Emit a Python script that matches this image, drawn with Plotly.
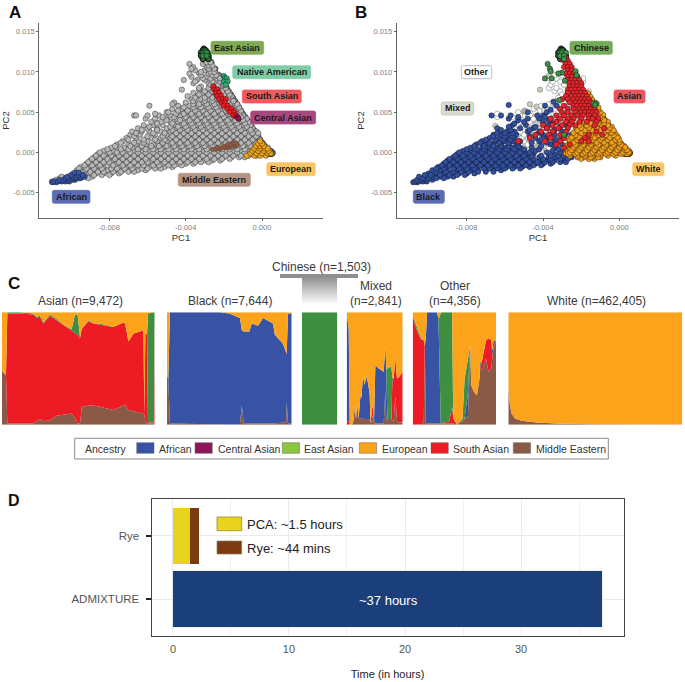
import plotly.graph_objects as go

W, H = 685, 682
FONT = "Liberation Sans"

# ---------- PCA data (PC2 row : PC1 values, both x 1e-4) ----------
GRAY_ROWS = {
-36:[-110,-107],-34:[-108,-105,-103,-99],-32:[-106,-104],-30:[-105,-101,-97,-93,-89],-26:[-99,-95,-91,-87,-83,-79,-75],
-22:[-97,-93,-89,-85,-81,-77,-73,-69,-65,-61],
-18:[-95,-91,-87,-83,-79,-75,-71,-67,-63,-59,-55,-51,-47],
-14:[-92,-88,-84,-80,-76,-72,-68,-64,-60,-56,-52,-48,-44,-40,-36],
-10:[-90,-86,-82,-78,-74,-70,-66,-62,-58,-54,-50,-46,-42,-38,-34,-30,-26,-22],
-6:[-88,-84,-80,-76,-72,-68,-64,-60,-56,-52,-48,-44,-40,-36,-32,-28,-24,-20,-16,-12,-9],
-2:[-86,-82,-78,-74,-70,-66,-62,-58,-54,-50,-46,-42,-38,-34,-30,-26,-22,-18,-14,-10,-6,-2,2],
2:[-83,-78,-75,-71,-67,-63,-59,-55,-51,-47,-43,-39,-35,-31,-27,-23,-19,-15,-11,-7,-3,1,4],
6:[-79,-72,-68,-64,-60,-56,-52,-48,-44,-40,-36,-32,-28,-24,-20,-16,-12,-8,-4,0,3],
10:[-76,-70,-66,-61,-57,-53,-49,-45,-41,-37,-33,-29,-25,-21,-17,-13,-9,-5,-1,1],
14:[-73,-65,-60,-55,-50,-46,-42,-38,-34,-30,-26,-22,-18,-14,-10,-6,-2],
18:[-71,-66,-58,-53,-48,-44,-40,-36,-32,-28,-24,-20,-16,-12,-8,-4],
22:[-69,-64,-56,-50,-46,-42,-38,-34,-30,-26,-22,-18,-14,-10,-6,-2],
26:[-68,-63,-59,-53,-48,-44,-40,-36,-32,-28,-24,-20,-16,-12,-7,-3],
30:[-65,-60,-55,-50,-45,-41,-37,-33,-29,-25,-21,-17,-13,-9,-5],
34:[-62,-57,-52,-46,-42,-38,-34,-30,-26,-22,-18,-14,-10,-6],
38:[-58,-53,-48,-44,-40,-36,-32,-28,-24,-20,-16,-12,-7],
42:[-61,-56,-50,-45,-41,-37,-33,-29,-25,-21,-17,-13,-8],
46:[-67,-66,-60,-54,-48,-43,-39,-35,-31,-27,-23,-19,-15,-10],
50:[-50,-49,-44,-40,-36,-32,-28,-24,-20,-16,-12],
54:[-47,-42,-37,-33,-29,-25,-21,-17,-13],
58:[-59,-44,-38,-34,-30,-26,-22,-18,-14],
62:[-46,-40,-35,-31,-27,-23,-19,-15],
66:[-37,-32,-28,-24,-20,-16],70:[-39,-34,-29,-25,-21,-16],74:[-36,-31,-27,-22,-17],
78:[-42,-33,-28,-24,-19],82:[-32,-26,-22,-19],86:[-36,-28,-24,-20],
90:[-41,-34,-30,-26,-22],94:[-37,-29,-25,-23],98:[-38,-33,-28,-24],102:[-35,-30,-26],
106:[-36,-29,-26],110:[-38,-31,-27],114:[-30,-28],118:[-31,-29,-28],
}
GRAY_FILL = {
-32:[-100,-96,-91],-28:[-98,-93,-88,-84,-80],-24:[-95,-90,-86,-83,-78,-74,-70,-67],
-20:[-96,-92,-88,-84,-79,-76,-72,-68,-63,-60,-56,-53],
-16:[-93,-89,-85,-81,-78,-73,-69,-65,-62,-57,-54,-49,-46,-42],
-12:[-91,-87,-83,-80,-75,-71,-67,-63,-60,-55,-51,-47,-43,-39,-35,-32,-28],
-8:[-89,-85,-81,-77,-73,-69,-65,-61,-57,-53,-49,-45,-41,-37,-33,-29,-25,-21,-17],
-4:[-87,-83,-79,-75,-71,-67,-63,-59,-55,-51,-47,-43,-39,-35,-31,-27,-23,-19,-15,-11,-7,-3],
0:[-85,-80,-76,-73,-69,-65,-61,-57,-53,-49,-45,-41,-37,-33,-29,-25,-21,-17,-13,-9,-5,-1,3],
4:[-81,-74,-70,-65,-61,-57,-53,-49,-45,-41,-37,-33,-29,-25,-21,-17,-13,-9,-5,-1,2],
8:[-77,-69,-63,-58,-54,-50,-46,-42,-38,-34,-30,-26,-22,-18,-14,-10,-6,-2,1],
12:[-74,-67,-62,-52,-47,-43,-39,-35,-31,-27,-23,-19,-15,-11,-7,-3,0],
16:[-70,-62,-56,-51,-45,-41,-37,-33,-29,-25,-21,-17,-13,-9,-5,-1],
20:[-67,-60,-52,-47,-43,-39,-35,-31,-27,-23,-19,-15,-11,-7,-3],
24:[-66,-57,-51,-45,-41,-37,-33,-29,-25,-21,-17,-13,-9,-5,-2],
28:[-63,-55,-47,-43,-39,-35,-31,-27,-23,-19,-15,-11,-6],
32:[-59,-48,-44,-40,-36,-32,-28,-24,-20,-16,-12,-8],
36:[-55,-47,-41,-37,-33,-29,-25,-21,-17,-13,-9],
40:[-50,-43,-38,-34,-30,-26,-22,-18,-14,-10],
44:[-52,-46,-40,-36,-32,-28,-24,-20,-16,-11],
48:[-56,-45,-41,-37,-33,-29,-25,-21,-17,-12],
52:[-44,-39,-35,-31,-27,-23,-19,-15,-11],
56:[-41,-36,-32,-28,-24,-20,-16,-12],
60:[-47,-36,-33,-29,-25,-21,-17,-13],
64:[-36,-30,-26,-22,-18,-15],68:[-35,-30,-26,-22,-18],72:[-33,-28,-24,-20,-17],76:[-30,-26,-21,-18],
80:[-33,-28,-23,-19],84:[-27,-23,-20],88:[-35,-26,-22],92:[-31,-27,-22],96:[-32,-26,-24],100:[-32,-27,-25],
104:[-37,-28,-25],108:[-28,-26],112:[-29,-27],
}
# dark outlined rim along the right edge and the two tips
EDGE_RIGHT = {112:[-26.5],104:[-24.5],96:[-22.5],88:[-20.5],80:[-18.5],76:[-17.5],72:[-16.3],68:[-15.2],64:[-14.2],60:[-13],56:[-12],52:[-11],48:[-10],44:[-8.8],
40:[-7.6],36:[-6.5],32:[-5.4],28:[-4.3],24:[-3.2],20:[-2],16:[-1],12:[0.2],8:[1.4],4:[2.5],2:[3.6,4.5],0:[3,4,5,5.5],
-1:[4,5,5.5],-2:[3,4,5]}
EDGE_TOP = {129:[-30.5],127:[-31,-29.5],124:[-32,-28.5],120:[-32,-28],116:[-31,-28]}
A_AFRICAN = {-37:[-110,-108],-36:[-109,-107,-105,-103,-101],-34:[-106,-104,-102,-100,-98],-32:[-103,-101,-99,-97,-95],
             -30:[-102,-99,-97,-95,-93],-28:[-100,-96,-94],-25:[-98,-96]}
A_EAST = {126:[-30],124:[-31,-30,-29],120:[-31,-29]}
A_NATIVE = {95:[-20],92:[-19.5,-18.5],88:[-20,-18],84:[-19]}
A_SOUTH = {82:[-25.5],78:[-25,-23.5],74:[-24,-22.5],70:[-23.5,-21.5],66:[-22.5,-20.5,-19],62:[-21,-19.5],
           58:[-20,-18],54:[-18,-16],50:[-16.5,-14.5],46:[-15,-13.5]}
A_CENTRAL = {44:[-13],42:[-12.3]}
A_ME = {4:[-26,-24,-22],6:[-23,-21,-19,-17],8:[-20,-18,-16,-14],10:[-18,-16,-14,-13],12:[-15,-14]}
A_EURO = {-4:[-8,-4,-1,2],-1:[-6,-3,0,3,4.5],2:[-5,-2,1,3.5],5:[-4,-1,1.5,3],8:[-3,-1,1],11:[-2,0],14:[-1]}

B_OTHER = {4:[-48,-40,-38,-36],8:[-48,-44,-42,-39,-36],12:[-50,-46,-44,-39,-36,-32],16:[-52,-50,-47,-35,-31],
20:[-52,-49,-46,-42,-36,-32,-28],24:[-51,-46,-43,-38,-32,-27],28:[-53,-50,-44,-40,-36,-34],32:[-50,-47,-42,-34,-31],
36:[-53,-46,-43,-38,-30],40:[-51,-46,-42,-38,-34,-30,-26],44:[-64,-56,-48,-44,-33,-29],48:[-64,-52,-46,-41,-36,-30,-26],
52:[-50,-42,-31,-25],56:[-40,-36,-28],60:[-37,-33,-26],64:[-33,-30,-26],70:[-31,-28],76:[-34,-31,-27,-16],
80:[-37,-33,-26],84:[-36,-29,-20],88:[-35,-31,-19],92:[-37,-33,-28,-19],96:[-34,-30]}
B_OTHER_FILL = {2:[-44,-41,-38,-33],6:[-50,-47,-41,-37,-34],10:[-52,-48,-45,-41,-38,-32],14:[-50,-44,-41,-36,-33],
18:[-51,-48,-43,-33,-31],22:[-50,-47,-44,-36,-29],26:[-52,-45,-39,-35,-29],30:[-55,-46,-40,-33,-29],34:[-53,-44,-41,-35,-32],
38:[-52,-47,-37,-31,-28],42:[-53,-45,-39,-31,-27],46:[-52,-47,-37,-28],50:[-53,-44,-33,-28],54:[-45,-34,-29,-25],
58:[-41,-30],62:[-35,-29],68:[-32,-25],72:[-30]}
B_MIXED = {6:[-44],14:[-46,-37],18:[-40],26:[-47],30:[-42,-36],33:[-65],36:[-40],40:[-32],51:[-49.5,-49],57:[-43.4],
           60:[-46.9],78:[-41.6],95:[-37]}
B_BLACK = {-37:[-108,-106],-36:[-107,-105,-103,-101],-34:[-106,-104,-101,-98],-30:[-105,-102,-98,-94,-90,-87],-26:[-100,-96,-92,-88,-84,-80,-76],
-22:[-98,-94,-90,-86,-82,-78,-74,-70,-66,-62],-18:[-95,-91,-87,-83,-79,-75,-71,-67,-63,-59,-55,-51,-47],
-14:[-92,-88,-84,-80,-76,-72,-68,-64,-60,-56,-52,-48,-44,-40,-36],
-10:[-90,-86,-82,-78,-74,-70,-66,-62,-58,-54,-50,-46,-42,-38,-34,-30],
-6:[-87,-83,-79,-75,-71,-67,-63,-59,-55,-51,-47,-42,-37,-33,-28,-25],
-2:[-85,-81,-77,-73,-69,-65,-61,-57,-53,-49,-45,-34,-30],2:[-82,-78,-74,-70,-66,-62,-58,-54,-50,-44,-35,-29],
6:[-78,-72,-68,-64,-60,-56,-52,-46,-33],10:[-75,-70,-66,-62,-58,-54,-36,-30],14:[-72,-65,-60,-56,-52,-42,-34],
18:[-68,-63,-58,-55,-44,-38,-30],22:[-66,-62,-58,-54,-40,-34,-25],26:[-63,-59,-55,-48,-42,-30],30:[-64,-52,-45,-38],
34:[-56,-49,-37,-28],38:[-50,-40,-33],42:[-58,-48,-42,-36],46:[-67,-62,-57,-43,-40],50:[-48,-38],53:[-36],
58:[-39,-33],59:[-58],63:[-34.5]}
B_BLACK_FILL = {-32:[-103,-100,-96,-92],-28:[-102,-99,-94,-89,-85,-81],-24:[-96,-91,-87,-83,-79,-74,-70,-66],
-20:[-96,-92,-87,-84,-80,-76,-71,-68,-64,-60,-56,-52],-16:[-93,-89,-85,-81,-77,-73,-69,-65,-61,-57,-53,-49,-45,-41],
-12:[-91,-87,-83,-79,-75,-71,-67,-63,-59,-55,-51,-47,-43,-39,-35,-31,-28],
-8:[-89,-85,-81,-77,-73,-69,-65,-61,-57,-53,-49,-45,-40,-36,-31,-27],
-4:[-86,-82,-78,-74,-70,-66,-62,-58,-54,-50,-46,-41,-36,-32],0:[-84,-80,-76,-72,-68,-64,-60,-56,-52,-47,-38,-31],
4:[-80,-75,-71,-67,-63,-59,-55,-50,-42,-32],8:[-76,-71,-66,-62,-58,-53,-41,-34],12:[-73,-68,-63,-58,-53,-46,-38],
16:[-70,-65,-61,-57,-41,-33],20:[-66,-60,-56,-47,-37],24:[-64,-60,-56,-41,-28],28:[-62,-57,-47,-34],32:[-58,-44,-31],
36:[-55,-35],40:[-53,-37],44:[-53,-39]}
B_WHITE = {-8:[-20,-16,-13],-6:[-22,-18,-14,-10],-4:[-26,-22,-18,-14,-10,-6,-2],-1:[-28,-24,-20,-16,-12,-8,-4,0,3,4,5],
2:[-27,-23,-19,-15,-11,-7,-3,1,4,5],5:[-26,-22,-18,-14,-10,-6,-2,2,3.5],8:[-28,-24,-20,-16,-12,-8,-4,0,2.5],
11:[-26,-22,-18,-14,-10,-6,-2,1],14:[-25,-21,-17,-13,-9,-5,-1],17:[-27,-23,-19,-15,-11,-7,-3,-0.5],
20:[-24,-20,-16,-12,-8,-4,-1],23:[-22,-18,-14,-10,-6,-2],26:[-23,-19,-15,-11,-7,-3],29:[-21,-17,-13,-9,-5],
32:[-23,-19,-15,-11,-7,-4],35:[-20,-16,-10,-6],38:[-18,-14,-9,-6],41:[-16,-8],44:[-9],47:[-10,-8.5],50:[-10],
53:[-11],56:[-11],62:[-13],66:[-14.5],70:[-15.5],74:[-16.5]}
B_WHITE_FILL = {-6:[-15,-11],-2:[-27,-23,-19,-15,-11,-7,-3,1,4],0:[-26,-22,-18,-14,-10,-6,-2,2,5],3:[-25,-21,-17,-13,-9,-5,-1,3,4],
6.5:[-24,-20,-16,-12,-8,-4,0,3],9.5:[-27,-23,-19,-15,-11,-7,-3,1],12.5:[-24,-20,-16,-12,-8,-4,0],
15.5:[-26,-22,-18,-14,-10,-6,-2,0],18.5:[-25,-21,-17,-13,-9,-5,-1],21.5:[-23,-19,-15,-11,-7,-3],
24.5:[-24,-20,-16,-12,-8,-4],27.5:[-22,-18,-14,-10,-6,-3],30.5:[-20,-16,-12,-8,-5],33.5:[-21,-17,-13,-9,-6],
36.5:[-15,-11,-8],40:[-12,-8],43:[-14,-10]}
B_WHITE_EDGE = {72:[-16.3],68:[-15.2],64:[-14.2],60:[-13],56:[-12],52:[-11],48:[-10],44:[-8.8],40:[-7.6],36:[-6.5],32:[-5.4],
28:[-4.3],24:[-3.2],20:[-2],16:[-1],12:[0.2],8:[1.4],4:[2.5],2:[3.6,4.5],0:[3,4,5,5.5],-1:[4,5,5.5],-2:[3,4,5]}
B_ASIAN = {122:[-29],118:[-30,-28],114:[-29,-27],110:[-28,-26],106:[-29,-27,-25],102:[-27,-25],98:[-28,-26,-24],
94:[-27,-25,-22],90:[-27,-25,-23,-21],86:[-26,-24,-22,-20],82:[-26,-24,-22,-20],78:[-27,-25,-23,-21,-19],
74:[-27,-24,-22,-20,-18],70:[-28,-25,-23,-21,-19,-17],66:[-30,-27,-24,-22,-20,-18,-16],62:[-26,-23,-21,-19,-17,-15],
58:[-29,-24,-22,-20,-18,-16,-14],54:[-31,-27,-24,-21,-19,-17,-15,-13],50:[-30,-27,-23,-20,-18,-16,-14,-12],
46:[-33,-29,-25,-22,-19,-16,-13],42:[-36,-31,-27,-24,-20,-16,-14,-11],38:[-33,-28,-25,-21,-17,-12],
34:[-40,-35,-30,-26,-23,-13],30:[-38,-32,-27,-8],26:[-41,-35,-28,-12],22:[-44,-37,-31,-16,-9],18:[-47,-36,-29,-18],
14:[-53,-39,-31,-20,-16],10:[-33,-26],6:[-29]}
B_CHINESE = {126:[-30],124:[-31,-30,-28],120:[-31,-29],116:[-29],110:[-37.6],104:[-36.4],101:[-36,-23],
99:[-30.2],98:[-32],96:[-22.4],92:[-39,-35.5],89:[-28.5],65:[-31.6],61:[-13.6,-12],59:[-12.7],22:[-29]}

# ---------- Ancestry proportions (percent of panel height, x = percent of panel width) ----------
ASIAN_X  = [0,2.6,3.5,11.8,20.5,22.7,24.9,27.1,31.4,35.8,40.2,45.6,47.8,49.5,51.1,52.2,53.3,56.6,59.8,64.2,72.9,79.5,80.6,82.8,86,92.6,93.2,93.9,95,95.6,99.5,100]
ASIAN_ME = [48,44,1,1,1,3,5,3,4,8,9,10,6,1,1,16,16,17,17,16,13,17,18,13,12,10,9,3,1,1,1,1]
ASIAN_SA = [0,0,98,98,97,92,91,87,93,85,80,74,76,79,76,69,71,75,73,73,74,74,72,61,69,74,1,79,79,1,1,99]
ASIAN_AF = [0]*32
ASIAN_EA = [0,0,1,1,1,1,1,1,1,1,0,1,16,18,1,1,0,1,0,1,0,0,0,0,0,0,0,0,0,97,98,0]
ASIAN_EU = [52,56,0,0,1,4,3,9,2,6,11,15,2,2,22,14,13,7,10,10,13,9,10,26,19,16,90,18,20,1,0,0]

BLACK_X  = [0,1,2.4,42,50,58,58.5,60,61.5,66,68,73,77,85,86.5,93,95.5,96,97,99.5,100]
BLACK_ME = [45,40,1,0,0,0,1,17,1,1,1,1,1,1,1,2,3,20,1,1,1]
BLACK_SA = [0]*21
BLACK_AF = [0,0,99,100,99,95,94,67,82,82,89,87,94,89,79,70,60,43,98,98,99]
BLACK_EA = [0]*21
BLACK_EU = [55,60,0,0,1,5,5,16,17,17,10,12,5,10,20,28,37,37,1,1,0]

CHINESE_X  = [0,100]
CHINESE_EA = [100,100]

MIXED_X  = [0,3.6,5.4,9.5,11.9,14.3,16.7,18.5,21.4,24.4,26.2,29.2,32.1,34.5,38.1,41.1,42.3,44,46.4,48.8,50,51.2,57.1,66.1,69,70.8,72.6,79.8,81.5,83.9,86.9,89.9,92.9,97.6,100]
MIXED_ME = [0,0,0,0,3,16,5,19,6,5,6,6,5,5,5,4,2,2,8,1,1,1,1,1,30,3,5,5,4,3,25,3,2,2,2]
MIXED_SA = [3,3,0,0,0,0,0,0,0,0,0,0,0,0,0,0,0,5,10,3,0,0,0,0,0,0,0,0,35,38,34,38,40,44,45]
MIXED_AF = [97,82,0,0,0,0,0,0,0,20,18,37,30,38,32,23,0,0,0,0,30,52,49,46,40,46,0,0,0,0,0,0,0,0,0]
MIXED_EA = [0,0,0,0,0,0,0,0,0,0,0,0,0,0,0,0,0,0,0,0,0,0,0,0,0,0,45,47,3,0,0,0,0,0,0]
MIXED_EU = [0,15,100,100,97,84,95,81,94,75,76,57,65,57,63,73,98,93,82,96,69,47,50,53,30,51,50,48,58,59,41,59,58,54,53]

OTHER_X  = [0,4.8,10,13.3,14.5,15.7,17.3,28.9,30.9,32.5,33.7,43.8,47.4,48.6,53,55.8,59.8,62.2,66.3,69,70.3,73,77,80,81,83,88,91,94.4,95.6,97,100]
OTHER_ME = [0,0,0,3,70,2,1,1,1,1,1,1,1,1,0,2,3,5,8,62,35,30,26,40,50,48,59,47,50,60,68,74]
OTHER_SA = [97,84,76,72,0,0,0,0,0,0,0,2,15,5,0,0,0,0,0,0,0,0,0,0,0,8,16,30,25,1,2,0]
OTHER_AF = [0,0,0,0,0,75,99,99,94,45,0,0,0,0,0,0,0,0,20,9,0,0,0,0,3,0,0,0,0,5,5,0]
OTHER_EA = [0,3,1,0,0,0,0,0,0,50,99,97,84,0,0,0,2,35,32,0,0,0,0,0,3,0,0,0,0,0,0,0]
OTHER_EU = [3,13,23,25,30,23,0,0,5,4,0,0,0,94,100,98,95,60,40,29,65,70,74,60,44,44,25,23,25,34,25,26]

WHITE_X  = [0,0.4,1,1.9,3.8,7.7,16.3,27.8,47,100]
WHITE_ME = [32,24,17,10,5.6,3.5,2,1,0.3,0]
WHITE_EU = [68,76,83,90,94.4,96.5,98,99,99.7,100]

# ---------- Runtime ----------
TIME_CATS = ["ADMIXTURE", "Rye"]
PCA_HOURS = [0, 1.5]
RYE_HOURS = [0, 0.73]
ADMIX_HOURS = [37, 0]

ANCESTRY_COLORS = {"African":"#3953a4","Central Asian":"#8e1556","East Asian":"#3f8f42","European":"#faa31b",
                   "South Asian":"#ed1c24","Middle Eastern":"#8b5a46"}

def fx(px): return px / W
def fy(py): return 1 - py / H

def flat(*tables):
    xs, ys = [], []
    for rows in tables:
        for y, vals in rows.items():
            for x in vals:
                xs.append(x * 1e-4); ys.append(y * 1e-4)
    return xs, ys

fig = go.Figure()

def pts(tables, color, ax, edge="rgba(0,0,0,0.8)", size=5.4, lw=0.45, name=""):
    xs, ys = flat(*tables)
    fig.add_trace(go.Scatter(x=xs, y=ys, mode="markers", xaxis="x"+ax, yaxis="y"+ax, name=name, showlegend=False,
                             marker=dict(color=color, size=size, line=dict(color=edge, width=lw))))

pts([EDGE_RIGHT], "#9a9a9a", "", edge="rgba(0,0,0,0.85)", lw=0.7, name="Rim")
pts([GRAY_ROWS, GRAY_FILL], "#b7b7b7", "", name="Gray")
pts([A_AFRICAN], "#3953a4", "", name="African", lw=0.4)
pts([A_ME], "#8b5a46", "", edge="rgba(90,60,40,0.6)", size=4.5, name="Middle Eastern")
pts([A_EURO], "#f0a51e", "", name="European")
pts([A_NATIVE], "#2fa56f", "", name="Native American")
pts([A_SOUTH], "#ed1c24", "", name="South Asian")
pts([A_CENTRAL], "#8e1556", "", name="Central Asian")
pts([EDGE_TOP], "#2e6b3a", "", edge="black", lw=0.9, name="Tip")
pts([A_EAST], "#2e8b45", "", lw=0.5, name="East Asian")

pts([B_OTHER, B_OTHER_FILL], "white", "2", edge="rgba(60,60,60,0.8)", name="Other")
pts([B_MIXED], "#c9c9bb", "2", edge="rgba(60,60,60,0.7)", name="Mixed")
pts([B_BLACK, B_BLACK_FILL], "#33509f", "2", name="Black")
pts([B_WHITE_EDGE], "#d8901a", "2", edge="rgba(0,0,0,0.85)", lw=0.7, name="White rim")
pts([B_WHITE, B_WHITE_FILL], "#f0a01e", "2", name="White")
pts([EDGE_TOP], "#2e6b3a", "2", edge="black", lw=0.9, name="Tip")
pts([B_ASIAN], "#e4252b", "2", name="Asian")
pts([B_CHINESE], "#3f8f4a", "2", name="Chinese", lw=0.5)

# stacked ancestry panels
PANELS = [
    ("3", 2, 154.7, ASIAN_X, dict(ME=ASIAN_ME, SA=ASIAN_SA, AF=ASIAN_AF, EA=ASIAN_EA, EU=ASIAN_EU)),
    ("4", 167, 291.7, BLACK_X, dict(ME=BLACK_ME, SA=BLACK_SA, AF=BLACK_AF, EA=BLACK_EA, EU=BLACK_EU)),
    ("5", 302, 337.3, CHINESE_X, dict(EA=CHINESE_EA)),
    ("6", 346.7, 402.7, MIXED_X, dict(ME=MIXED_ME, SA=MIXED_SA, AF=MIXED_AF, EA=MIXED_EA, EU=MIXED_EU)),
    ("7", 412.7, 496, OTHER_X, dict(ME=OTHER_ME, SA=OTHER_SA, AF=OTHER_AF, EA=OTHER_EA, EU=OTHER_EU)),
    ("8", 508.3, 682.3, WHITE_X, dict(ME=WHITE_ME, EU=WHITE_EU)),
]
KEY = {"ME":"Middle Eastern","SA":"South Asian","AF":"African","EA":"East Asian","EU":"European"}
for ax, x0, x1, X, series in PANELS:
    for k, vals in series.items():
        fig.add_trace(go.Scatter(x=X, y=vals, xaxis="x"+ax, yaxis="y"+ax, mode="lines", stackgroup="s"+ax,
                                 line=dict(width=0), fillcolor=ANCESTRY_COLORS[KEY[k]], name=KEY[k], showlegend=False))

# runtime bars
fig.add_trace(go.Bar(y=TIME_CATS, x=ADMIX_HOURS, orientation="h", xaxis="x9", yaxis="y9", marker_color="#1b3f7a",
                     marker_line=dict(color="#dfe6ee", width=0.6), showlegend=False, name="ADMIXTURE"))
fig.add_trace(go.Bar(y=TIME_CATS, x=PCA_HOURS, orientation="h", xaxis="x9", yaxis="y9", marker_color="#e8d31f",
                     marker_line=dict(width=0), showlegend=False, name="PCA"))
fig.add_trace(go.Bar(y=TIME_CATS, x=RYE_HOURS, orientation="h", xaxis="x9", yaxis="y9", marker_color="#7a3b12",
                     marker_line=dict(width=0), showlegend=False, name="Rye"))

layout = dict(width=W, height=H, margin=dict(l=0, r=0, t=0, b=0), paper_bgcolor="white", plot_bgcolor="white",
              barmode="stack", bargap=0.1, font=dict(family=FONT), hovermode=False)

def scatter_axes(sfx, x0, x1, xr):
    pc = dict(showgrid=False, zeroline=False, showline=True, linecolor="#666666", linewidth=1, ticks="outside",
              ticklen=2, tickwidth=0.8, tickcolor="#666666", tickfont=dict(size=7.5, color="#808080", family=FONT))
    layout["xaxis"+sfx] = dict(pc, domain=[fx(x0), fx(x1)], range=xr, anchor="y"+sfx,
        tickvals=[-0.008,-0.004,0], ticktext=["-0.008","-0.004","0.000"],
        title=dict(text="PC1", font=dict(size=9.5, color="#333333"), standoff=1))
    layout["yaxis"+sfx] = dict(pc, domain=[fy(217.7), fy(23.3)], range=[-0.0081, 0.01604], anchor="x"+sfx,
        tickvals=[-0.005,0,0.005,0.010,0.015], ticktext=["-0.005","0.000","0.005","0.010","0.015"],
        title=dict(text="PC2", font=dict(size=9.5, color="#333333"), standoff=4))

scatter_axes("", 39.3, 322.7, [-0.01167, 0.00318])
scatter_axes("2", 396.7, 679.3, [-0.01167, 0.00314])

for ax, x0, x1, _, _ in PANELS:
    layout["xaxis"+ax] = dict(domain=[fx(x0), fx(x1)], range=[0,100], visible=False, anchor="y"+ax)
    layout["yaxis"+ax] = dict(domain=[fy(424.7), fy(312.3)], range=[0,100], visible=False, anchor="x"+ax)

layout["xaxis9"] = dict(domain=[fx(151.5), fx(623.7)], range=[-1.85, 38.85], anchor="y9", showline=True, mirror=True,
    linecolor="#444444", linewidth=1, zeroline=False, showgrid=True, gridcolor="#ebebeb", gridwidth=1,
    tickvals=[0,10,20,30], ticks="", tickfont=dict(size=11, color="#555555", family=FONT), ticklabelstandoff=3,
    minor=dict(tickvals=[5,15,25,35], showgrid=True, gridcolor="#f0f0f0", gridwidth=0.6, ticks=""),
    title=dict(text="Time (in hours)", font=dict(size=11, color="#222222", family=FONT), standoff=16))
layout["yaxis9"] = dict(domain=[fy(636), fy(499)], range=[-0.587, 1.587], anchor="x9", showline=True, mirror=True,
    linecolor="#444444", linewidth=1, zeroline=False, showgrid=True, gridcolor="#ebebeb", type="category",
    categoryorder="array", categoryarray=TIME_CATS, ticks="outside", ticklen=5, tickwidth=1.5, tickcolor="#222222",
    ticklabelstandoff=4, tickfont=dict(size=11.5, color="#555555", family=FONT))

shapes, annots = [], []

def rect(x0, y0, x1, y1, fill, line=None, lw=0):
    shapes.append(dict(type="rect", xref="paper", yref="paper", x0=fx(x0), x1=fx(x1), y0=fy(y0), y1=fy(y1),
                       fillcolor=fill, line=dict(color=line or fill, width=lw)))

def text(x, y, s, size, color="#333333", anchor="center", bold=False):
    annots.append(dict(xref="paper", yref="paper", x=fx(x), y=fy(y), text=f"<b>{s}</b>" if bold else s, showarrow=False,
                       xanchor=anchor, yanchor="middle", font=dict(size=size, color=color, family=FONT)))

def label(x0, x1, y0, y1, s, bg, border=None, color="#1a1a1a"):
    r = 2
    p = (f"M {fx(x0+r)} {fy(y0)} L {fx(x1-r)} {fy(y0)} Q {fx(x1)} {fy(y0)} {fx(x1)} {fy(y0+r)} "
         f"L {fx(x1)} {fy(y1-r)} Q {fx(x1)} {fy(y1)} {fx(x1-r)} {fy(y1)} L {fx(x0+r)} {fy(y1)} "
         f"Q {fx(x0)} {fy(y1)} {fx(x0)} {fy(y1-r)} L {fx(x0)} {fy(y0+r)} Q {fx(x0)} {fy(y0)} {fx(x0+r)} {fy(y0)} Z")
    shapes.append(dict(type="path", xref="paper", yref="paper", path=p, fillcolor=bg,
                       line=dict(color=border or bg, width=0.7)))
    text((x0+x1)/2, (y0+y1)/2, s, 9, color, bold=True)

for a in [(211,263.7,41.3,54.3,"East Asian","#7fa955"),(232.7,310.7,65.7,78.7,"Native American","#7fcda6"),
          (242.3,301.3,90,103,"South Asian","#ef5a5f"),(250.7,315.7,111,124,"Central Asian","#a8487f"),
          (266.7,315.3,162.7,175.7,"European","#f9c565"),(178.3,250.3,173.3,186.3,"Middle Eastern","#b39485"),
          (52.3,90,190.3,203.3,"African","#5a6cb3"),
          (570,612.3,41.3,54.3,"Chinese","#74aa5c"),(614,645,90,103,"Asian","#ea5560"),
          (632.7,664,162.7,175.7,"White","#f9c565"),(413.3,444.3,190.3,203.3,"Black","#5a6cb3")]:
    label(*a)
label(461.3,491.7,65.7,78.7,"Other","white",border="#9aa3b0")
label(441.3,473.7,102,115,"Mixed","#dcdbd0",border="#bdbcb0")

text(14.5, 13, "A", 17, "#111111", bold=True)
text(360.5, 13, "B", 17, "#111111", bold=True)
text(14, 283, "C", 17, "#111111", bold=True)
text(14, 500, "D", 16, "#111111", bold=True)

for x, y, s in [(80,300.5,"Asian (n=9,472)"),(230,300.5,"Black (n=7,644)"),(321.7,267,"Chinese (n=1,503)"),
                (375.8,285.5,"Mixed"),(375.8,300.5,"(n=2,841)"),(455,285.5,"Other"),(455,300.5,"(n=4,356)"),
                (596.7,300.5,"White (n=462,405)")]:
    text(x, y, s, 12, "#3a3a3a")

# funnel above the Chinese panel
rect(280, 274, 358, 278, "#8f8f8f")
for i in range(27):
    g = int(150 + (255-150) * i / 26)
    rect(302, 278+i, 337, 279+i, f"rgb({g},{g},{g})")

# ancestry legend
rect(74.7, 438.3, 608.3, 459, "white", line="#8a8a8a", lw=1)
text(83.3, 449, "Ancestry", 10.5, anchor="left")
for x0, tx, name in [(136.7,157.3,"African"),(195,215.7,"Central Asian"),(282.3,302.3,"East Asian"),
                     (359.3,379.7,"European"),(431,450.7,"South Asian"),(513.3,534,"Middle Eastern")]:
    col = "#8dc63f" if name == "East Asian" else ANCESTRY_COLORS[name]
    rect(x0, 442.7, x0+17.3, 453.3, col, line="#666666", lw=0.5)
    text(tx, 449, name, 10.5, anchor="left")

# runtime key
rect(217, 517, 241.7, 530.7, "#e8d31f", line="#8a7f2a", lw=0.7)
rect(217, 541, 241.7, 554, "#7a3b12", line="#8a7f5a", lw=0.7)
text(245, 524, "PCA: ~1.5 hours", 13, "#222222", anchor="left")
text(245, 548, "Rye: ~44 mins", 13, "#222222", anchor="left")
text(388, 600, "~37 hours", 13, "white")

layout["shapes"] = shapes
layout["annotations"] = annots
fig.update_layout(**layout)
fig.write_html("out.html", config=dict(displayModeBar=False, responsive=False),
               post_script="document.body.style.margin='0';")
